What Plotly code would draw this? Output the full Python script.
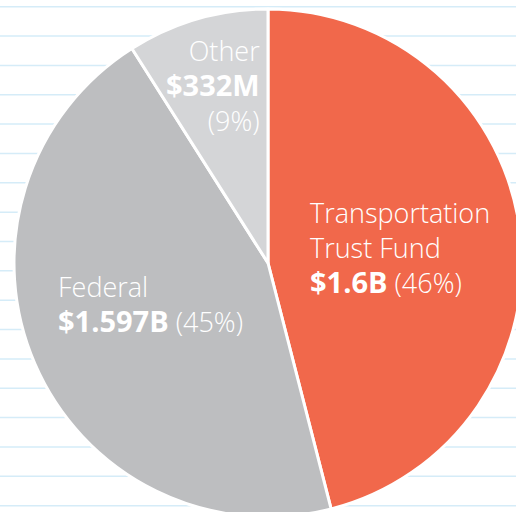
import plotly.graph_objects as go

# ---- data ----
labels = ["Transportation Trust Fund", "Federal", "Other"]
label_lines = ["Transportation<br>Trust Fund", "Federal", "Other"]
amounts = ["$1.6B", "$1.597B", "$332M"]
shares = [46, 45, 9]
colors = ["#f1684b", "#bdbec0", "#d4d5d7"]

W, H = 536, 526

fig = go.Figure(
    go.Pie(
        labels=labels,
        values=shares,
        sort=False,
        direction="clockwise",
        rotation=0,
        marker=dict(colors=colors, line=dict(color="white", width=3)),
        textinfo="none",
        hoverinfo="skip",
        showlegend=False,
        domain=dict(x=[14 / W, 522 / W], y=[1 - 517 / H, 1 - 9 / H]),
    )
)

# notebook-style background lines
shapes = []
for k in range(18):
    yy = 6.7 + 29.35 * k
    shapes.append(dict(type="line", xref="paper", yref="paper", x0=0, x1=1,
                       y0=1 - yy / H, y1=1 - yy / H, layer="below",
                       line=dict(color="#d5ecf8", width=1.5)))

font = dict(family="Open Sans", size=27, color="white", weight=300)
ann_specs = [
    # (x px, y px top, anchor, align, separator between amount and pct)
    (308, 192, "left", "left", " "),
    (56, 266, "left", "left", " "),
    (262, 30, "right", "right", "<br>"),
]
annotations = []
for (xp, yp, xa, al, sep), name, amt, sh in zip(ann_specs, label_lines, amounts, shares):
    annotations.append(dict(
        xref="paper", yref="paper", x=xp / W, y=1 - yp / H,
        xanchor=xa, yanchor="top", align=al, showarrow=False,
        text=f"{name}<br><b><span style='font-size:29px'>{amt}</span></b>{sep}({sh}%)",
        font=font,
    ))

fig.update_layout(
    width=W, height=H,
    margin=dict(l=0, r=0, t=0, b=0),
    paper_bgcolor="white", plot_bgcolor="white",
    shapes=shapes, annotations=annotations,
)

fig.write_html(
    "out.html",
    config={"displayModeBar": False},
    post_script="document.body.style.margin='0';document.body.style.overflow='hidden';",
)
